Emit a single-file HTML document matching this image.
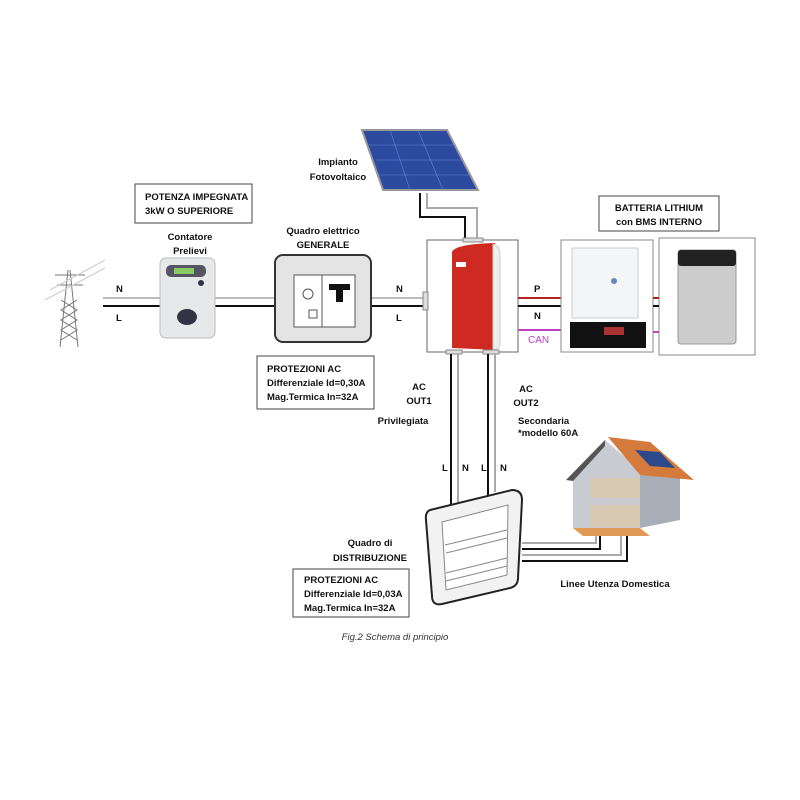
<!DOCTYPE html>
<html><head><meta charset="utf-8"><style>
html,body{margin:0;padding:0;background:#fff;}
svg{display:block;}
text{font-family:"Liberation Sans",sans-serif;font-size:10px;fill:#111;}
.b{font-weight:bold;font-size:9.5px;}
</style></head><body>
<svg width="800" height="800" viewBox="0 0 800 800" xmlns="http://www.w3.org/2000/svg">
<!-- tower -->
<g stroke="#777" stroke-width="1" fill="none">
<line x1="60" y1="347" x2="68" y2="270"/><line x1="78" y1="347" x2="70" y2="270"/>
<line x1="55" y1="275" x2="85" y2="275"/><line x1="57" y1="285" x2="83" y2="285"/>
<path d="M61 300 L77 310 L61 320 L77 330 L61 340 M77 300 L61 310 L77 320 L61 330 L77 340"/>
<line x1="50" y1="290" x2="105" y2="260" stroke="#ccc"/><line x1="45" y1="300" x2="105" y2="268" stroke="#ccc"/>
</g>
<!-- N L lines left -->
<line x1="103" y1="298" x2="428" y2="298" stroke="#bbb" stroke-width="2"/>
<line x1="103" y1="306" x2="428" y2="306" stroke="#111" stroke-width="2"/>
<text x="116" y="292" class="b">N</text><text x="116" y="321" class="b">L</text>
<text x="396" y="292" class="b">N</text><text x="396" y="321" class="b">L</text>
<!-- meter -->
<rect x="160" y="258" width="55" height="80" rx="6" fill="#e6e8ea" stroke="#bbb"/>
<rect x="166" y="265" width="40" height="12" rx="5" fill="#556"/>
<rect x="174" y="268" width="20" height="6" fill="#8c6"/>
<circle cx="201" cy="283" r="3" fill="#334"/>
<ellipse cx="187" cy="317" rx="10" ry="8" fill="#334"/>
<rect x="135" y="184" width="117" height="39" fill="#fff" stroke="#444"/>
<text x="145" y="200" class="b">POTENZA  IMPEGNATA</text><text x="145" y="214" class="b">3kW O SUPERIORE</text>
<text x="190" y="240" text-anchor="middle" class="b">Contatore</text><text x="190" y="254" text-anchor="middle" class="b">Prelievi</text>
<!-- quadro generale -->
<text x="323" y="234" text-anchor="middle" class="b">Quadro elettrico</text><text x="323" y="248" text-anchor="middle" class="b">GENERALE</text>
<rect x="275" y="255" width="96" height="87" rx="8" fill="#e4e4e4" stroke="#333" stroke-width="2"/>
<rect x="294" y="275" width="61" height="52" fill="#fff" stroke="#555"/>
<line x1="322" y1="275" x2="322" y2="327" stroke="#555"/>
<circle cx="308" cy="294" r="5" fill="none" stroke="#555"/>
<rect x="309" y="310" width="8" height="8" fill="none" stroke="#555"/>
<path d="M329 284 H350 V290 H343 V302 H336 V290 H329Z" fill="#111"/>
<rect x="257" y="356" width="117" height="53" fill="#fff" stroke="#444"/>
<text x="267" y="372" class="b">PROTEZIONI AC</text><text x="267" y="386" class="b">Differenziale Id=0,30A</text><text x="267" y="400" class="b">Mag.Termica In=32A</text>
<!-- solar panel -->
<polygon points="362,130 447,130 478,190 383,190" fill="#2b4aa0" stroke="#999" stroke-width="2"/>
<g stroke="#6c86d0" stroke-width="0.6"><line x1="369" y1="145" x2="455" y2="145"/><line x1="376" y1="160" x2="463" y2="160"/><line x1="379" y1="175" x2="470" y2="175"/><line x1="390" y1="130" x2="410" y2="190"/><line x1="418" y1="130" x2="443" y2="190"/></g>
<path d="M420 193 V217 H465 V240" fill="none" stroke="#111" stroke-width="2"/>
<path d="M427 193 V208 H477 V240" fill="none" stroke="#aaa" stroke-width="2"/>
<text x="338" y="165" text-anchor="middle" class="b">Impianto</text><text x="338" y="180" text-anchor="middle" class="b">Fotovoltaico</text>
<!-- inverter -->
<rect x="427" y="240" width="91" height="112" fill="#fff" stroke="#666"/>
<rect x="423" y="292" width="5" height="18" fill="#ddd" stroke="#888"/>
<rect x="463" y="238" width="20" height="4" fill="#ddd" stroke="#888"/>
<path d="M452 252 Q455 244 495 243 L497 350 L452 348Z" fill="#cf2a22"/>
<path d="M493 244 Q500 246 500 255 V345 Q498 350 493 350Z" fill="#eee" stroke="#ccc"/>
<rect x="456" y="262" width="10" height="5" fill="#fff"/>
<!-- battery lines -->
<line x1="518" y1="298" x2="561" y2="298" stroke="#b3241c" stroke-width="2"/>
<line x1="518" y1="306" x2="561" y2="306" stroke="#111" stroke-width="2"/>
<line x1="518" y1="330" x2="561" y2="330" stroke="#c040c0" stroke-width="2"/>
<text x="534" y="292" class="b">P</text><text x="534" y="319" class="b">N</text>
<text x="528" y="343" style="font-size:10px;fill:#c040c0">CAN</text>
<rect x="599" y="196" width="120" height="35" fill="#fff" stroke="#444"/>
<text x="659" y="211" text-anchor="middle" class="b">BATTERIA LITHIUM</text><text x="659" y="225" text-anchor="middle" class="b">con BMS INTERNO</text>
<rect x="561" y="240" width="92" height="112" fill="#fff" stroke="#888"/>
<rect x="572" y="248" width="66" height="70" fill="#f4f5f7" stroke="#ccc"/>
<circle cx="614" cy="281" r="3" fill="#68b"/>
<rect x="570" y="322" width="76" height="26" fill="#111"/>
<rect x="604" y="327" width="20" height="8" fill="#a33"/>
<rect x="659" y="238" width="96" height="117" fill="#fff" stroke="#888"/>
<rect x="678" y="250" width="58" height="94" rx="3" fill="#ccc" stroke="#999"/>
<rect x="678" y="250" width="58" height="16" rx="3" fill="#222"/>
<line x1="653" y1="298" x2="659" y2="298" stroke="#b3241c" stroke-width="2"/>
<line x1="653" y1="306" x2="659" y2="306" stroke="#111" stroke-width="2"/>
<line x1="653" y1="332" x2="659" y2="332" stroke="#c040c0" stroke-width="2"/>
<!-- vertical out lines -->
<rect x="446" y="350" width="16" height="4" fill="#ddd" stroke="#888"/>
<rect x="483" y="350" width="16" height="4" fill="#ddd" stroke="#888"/>
<line x1="451" y1="354" x2="451" y2="510" stroke="#111" stroke-width="2"/>
<line x1="458" y1="354" x2="458" y2="505" stroke="#aaa" stroke-width="2"/>
<line x1="488" y1="354" x2="488" y2="496" stroke="#111" stroke-width="2"/>
<line x1="495" y1="354" x2="495" y2="492" stroke="#aaa" stroke-width="2"/>
<text x="419" y="390" text-anchor="middle" class="b">AC</text><text x="419" y="404" text-anchor="middle" class="b">OUT1</text>
<text x="403" y="424" text-anchor="middle" class="b">Privilegiata</text>
<text x="526" y="392" text-anchor="middle" class="b">AC</text><text x="526" y="406" text-anchor="middle" class="b">OUT2</text>
<text x="518" y="424" class="b">Secondaria</text><text x="518" y="436" class="b">*modello 60A</text>
<text x="442" y="471" class="b">L</text><text x="462" y="471" class="b">N</text><text x="481" y="471" class="b">L</text><text x="500" y="471" class="b">N</text>
<!-- distribution box -->
<path d="M430 510 L512 490 Q522 490 522 500 L518 578 Q518 586 510 588 L442 604 Q432 606 432 596 L426 520 Q425 512 430 510Z" fill="#f2f2f2" stroke="#222" stroke-width="2"/>
<polygon points="442,522 508,505 507,575 446,590" fill="#fff" stroke="#888"/>
<line x1="445" y1="545" x2="507" y2="530" stroke="#888"/><line x1="446" y1="553" x2="507" y2="538" stroke="#888"/>
<line x1="446" y1="573" x2="507" y2="558" stroke="#888"/><line x1="446" y1="581" x2="507" y2="566" stroke="#888"/>
<!-- house lines -->
<path d="M522 543 H596 V530" fill="none" stroke="#aaa" stroke-width="2"/>
<path d="M522 549 H600 V530" fill="none" stroke="#111" stroke-width="2"/>
<path d="M522 555 H621 V530" fill="none" stroke="#aaa" stroke-width="2"/>
<path d="M522 561 H627 V530" fill="none" stroke="#111" stroke-width="2"/>
<!-- house -->
<polygon points="573,476 605,440 640,470 640,528 573,528" fill="#c8ccd2"/>
<polygon points="640,470 680,478 680,520 640,528" fill="#a8aeb8"/>
<polygon points="608,437 650,442 694,480 640,475" fill="#d47a3a"/>
<polygon points="635,450 660,452 675,468 650,466" fill="#2c4a8a"/>
<polygon points="605,440 566,480 573,481 605,446" fill="#555"/>
<rect x="590" y="478" width="50" height="20" fill="#d8c9b3"/>
<rect x="590" y="505" width="50" height="22" fill="#d8c9b3"/>
<polygon points="573,528 640,528 650,536 583,536" fill="#e09a55"/>
<text x="370" y="546" text-anchor="middle" class="b">Quadro di</text><text x="370" y="561" text-anchor="middle" class="b">DISTRIBUZIONE</text>
<rect x="293" y="569" width="116" height="48" fill="#fff" stroke="#444"/>
<text x="304" y="583" class="b">PROTEZIONI AC</text><text x="304" y="597" class="b">Differenziale Id=0,03A</text><text x="304" y="611" class="b">Mag.Termica In=32A</text>
<text x="615" y="587" text-anchor="middle" class="b">Linee Utenza Domestica</text>
<text x="395" y="640" text-anchor="middle" style="font-style:italic;font-size:9.5px;fill:#333">Fig.2 Schema di principio</text>
</svg>
</body></html>
